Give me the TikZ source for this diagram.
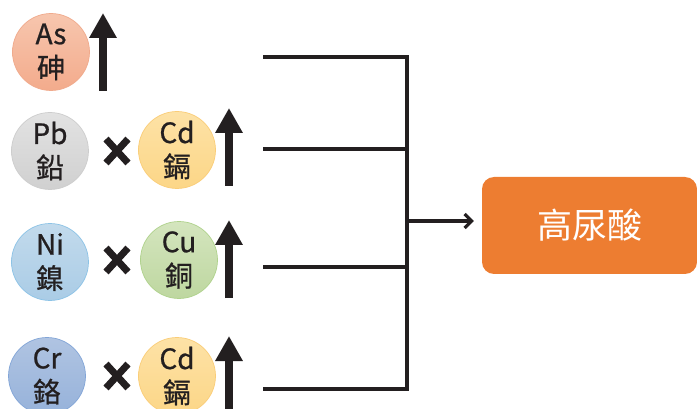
\documentclass[tikz,border=0pt]{standalone}
\usepackage{fontspec}
\setmainfont{Noto Sans CJK TC}
\newfontfamily\elemfont[FakeBold=0.8]{Noto Sans CJK TC}
\usetikzlibrary{arrows.meta}
\definecolor{ink}{HTML}{231F20}
\definecolor{orangebox}{HTML}{ED7D31}
\definecolor{asB}{RGB}{240,170,140}\definecolor{asT}{RGB}{247,198,174}\definecolor{asM}{RGB}{243,171,140}
\definecolor{pbB}{RGB}{205,205,205}\definecolor{pbT}{RGB}{226,226,226}\definecolor{pbM}{RGB}{208,208,208}
\definecolor{cdB}{RGB}{250,205,120}\definecolor{cdT}{RGB}{253,226,166}\definecolor{cdM}{RGB}{252,214,135}
\definecolor{niB}{RGB}{140,195,230}\definecolor{niT}{RGB}{194,218,236}\definecolor{niM}{RGB}{170,204,230}
\definecolor{cuB}{RGB}{175,210,140}\definecolor{cuT}{RGB}{212,229,190}\definecolor{cuM}{RGB}{190,215,160}
\definecolor{crB}{RGB}{130,165,215}\definecolor{crT}{RGB}{176,196,226}\definecolor{crM}{RGB}{150,178,218}
\tikzset{
  elem/.style={circle, minimum size=77pt, inner sep=0pt, draw=#1B, top color=#1T, bottom color=#1M,
    line width=0.7pt, align=center, text=ink, font=\elemfont\fontsize{28}{34}\selectfont},
  upar/.style={line width=8.5pt, ink, -{Triangle[width=26pt,length=25pt]}},
  crossmark/.style={line width=7pt, ink},
  conn/.style={line width=3.2pt, ink},
}
\begin{document}
\begin{tikzpicture}[x=1pt,y=-1pt]
\useasboundingbox (0,0) rectangle (697,409);
% circles
\node[elem=as] (as) at (51,52) {As\\砷};
\node[elem=pb] (pb) at (50,151) {Pb\\鉛};
\node[elem=cd] (cd1) at (177,150) {Cd\\鎘};
\node[elem=ni] (ni) at (50,262) {Ni\\鎳};
\node[elem=cu] (cu) at (179,260) {Cu\\銅};
\node[elem=cr] (cr) at (47,376) {Cr\\鉻};
\node[elem=cd] (cd2) at (177,376) {Cd\\鎘};
% up arrows
\coordinate (a1b) at (103,91); \coordinate (a1t) at (103,13);
\coordinate (a2b) at (229,186); \coordinate (a2t) at (229,108);
\coordinate (a3b) at (229,298); \coordinate (a3t) at (229,220);
\coordinate (a4b) at (229,412); \coordinate (a4t) at (229,336);
\draw[upar] (a1b) -- (a1t);
\draw[upar] (a2b) -- (a2t);
\draw[upar] (a3b) -- (a3t);
\draw[upar] (a4b) -- (a4t);
% crosses
\foreach \y in {151,260,376}{
  \draw[crossmark] (106,\y-12) -- (128,\y+12);
  \draw[crossmark] (128,\y-12) -- (106,\y+12);
}
% bracket
\coordinate (l1) at (263,57); \coordinate (t1) at (407,57);
\coordinate (l2) at (263,149); \coordinate (t2) at (407,149);
\coordinate (l3) at (263,267); \coordinate (t3) at (407,267);
\coordinate (l4) at (263,389); \coordinate (t4) at (407,389);
\coordinate (m) at (407,221);
\node[fill=orangebox, rounded corners=12pt, minimum width=215pt, minimum height=97pt, inner sep=0pt,
  text=white, font=\fontsize{35}{37}\selectfont] (uric) at (589.5,225.5) {高尿酸};
\draw[conn, line join=miter] (l1) -- (t1) -- (t4) -- (l4);
\draw[conn] (l2) -- (t2);
\draw[conn] (l3) -- (t3);
\draw[conn, -{Straight Barb[length=7pt,width=14pt]}, shorten >=8pt] (m) -- (m -| uric.west);
\end{tikzpicture}
\end{document}
